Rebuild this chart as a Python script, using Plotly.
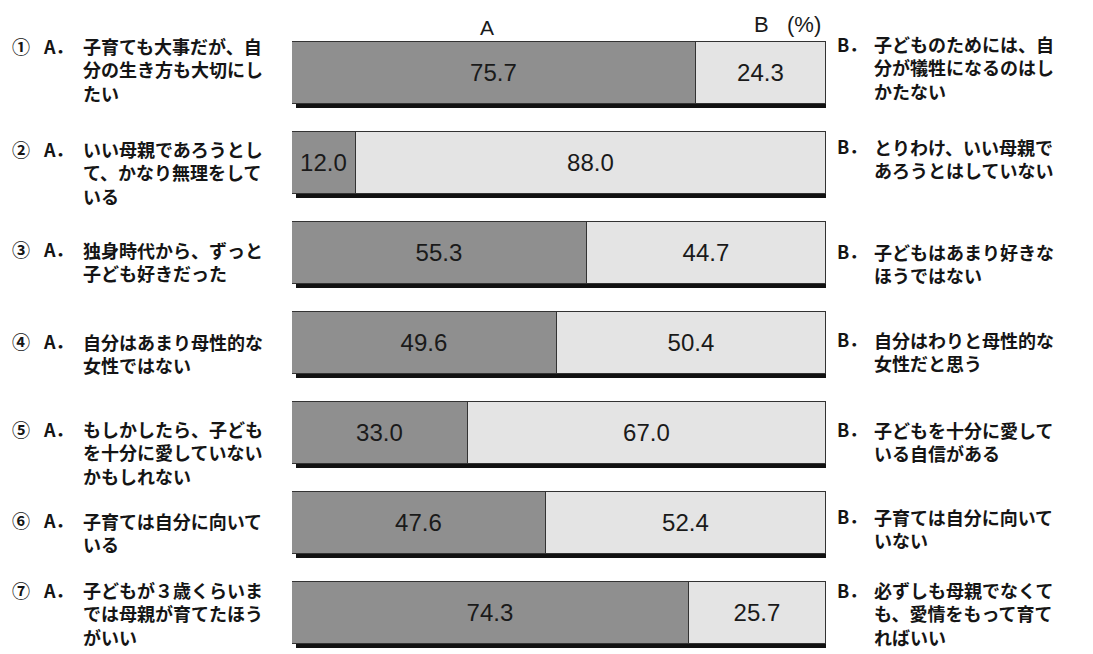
import plotly.graph_objects as go

nums = ["①", "②", "③", "④", "⑤", "⑥", "⑦"]
a_vals = [75.7, 12.0, 55.3, 49.6, 33.0, 47.6, 74.3]
b_vals = [24.3, 88.0, 44.7, 50.4, 67.0, 52.4, 25.7]
a_labels = [
    "子育ても大事だが、自<br>分の生き方も大切にし<br>たい",
    "いい母親であろうとし<br>て、かなり無理をして<br>いる",
    "独身時代から、ずっと<br>子ども好きだった",
    "自分はあまり母性的な<br>女性ではない",
    "もしかしたら、子ども<br>を十分に愛していない<br>かもしれない",
    "子育ては自分に向いて<br>いる",
    "子どもが３歳くらいま<br>では母親が育てたほう<br>がいい",
]
b_labels = [
    "子どものためには、自<br>分が犠牲になるのはし<br>かたない",
    "とりわけ、いい母親で<br>あろうとはしていない",
    "子どもはあまり好きな<br>ほうではない",
    "自分はわりと母性的な<br>女性だと思う",
    "子どもを十分に愛して<br>いる自信がある",
    "子育ては自分に向いて<br>いない",
    "必ずしも母親でなくて<br>も、愛情をもって育て<br>ればいい",
]

# ---- layout / styling ----
W, H = 1093, 654
ML, MR, MT, MB = 292, 267, 28, 0
plot_w = W - ML - MR
plot_h = H - MT - MB
n = len(a_vals)
step_px = 90.0
y_lo = -0.5 + plot_h / step_px
bar_w = 0.69
ys = list(range(n))

# vertical centre of each text block relative to bar centre (px, + = down)
left_block_dy = [-4, 9, 8, 10, 19, 9, 0]
right_block_dy = [-6, -5, 10, 8, 8, 5, 0]
FS = 18
LINE_PX = FS * 1.3

COL_A = "#8f8f8f"
COL_B = "#e4e4e4"
EDGE = "#333333"
JP = "Noto Sans CJK JP"
NUMF = "Liberation Sans, Arial, sans-serif"
TXT = "#151515"

fig = go.Figure()
for vals, col, nm in ((a_vals, COL_A, "A"), (b_vals, COL_B, "B")):
    fig.add_trace(go.Bar(
        y=ys, x=vals, orientation="h", width=bar_w,
        marker=dict(color=col, line=dict(color=EDGE, width=1.2)),
        text=[f"{v:.1f}" for v in vals], textposition="inside",
        insidetextanchor="middle", textangle=0,
        textfont=dict(family=NUMF, size=24, color="#1a1a1a"),
        hoverinfo="skip", showlegend=False, name=nm,
    ))

# drop shadows (bottom + right strips), derived from bar geometry
dx = 4 / plot_w * 100
dy = 4 / step_px
shapes = []
for i in ys:
    total = a_vals[i] + b_vals[i]
    top, bot = i - bar_w / 2, i + bar_w / 2
    shapes.append(dict(type="rect", xref="x", yref="y", layer="above",
                       x0=dx, x1=total + dx, y0=bot, y1=bot + dy,
                       fillcolor="#111111", line=dict(width=0)))
    shapes.append(dict(type="rect", xref="x", yref="y", layer="above",
                       x0=total, x1=total + dx, y0=top + dy, y1=bot + dy,
                       fillcolor="#111111", line=dict(width=0)))

annos = []


def add_block(i, xr, px_num, num, px_pre, pre, px_txt, label, block_dy):
    nl = label.count("<br>") + 1
    first = block_dy - (nl - 1) * LINE_PX / 2
    font = dict(family=JP, size=FS, color=TXT)
    if num:
        annos.append(dict(x=xr, xref="paper", y=i, yref="y", xanchor="center",
                          yanchor="middle", xshift=px_num, yshift=-first,
                          text="<b>" + num + "</b>", showarrow=False,
                          font=dict(family=JP, size=18, color=TXT)))
    annos.append(dict(x=xr, xref="paper", y=i, yref="y", xanchor="left",
                      yanchor="middle", xshift=px_pre, yshift=-first,
                      text="<b>" + pre + "</b>", showarrow=False, font=font))
    annos.append(dict(x=xr, xref="paper", y=i, yref="y", xanchor="left",
                      yanchor="middle", xshift=px_txt, yshift=-block_dy,
                      text="<b>" + label + "</b>", showarrow=False, align="left",
                      font=font))


for i in ys:
    add_block(i, 0, 21 - ML, nums[i], 41 - ML, "A．", 81 - ML, a_labels[i], left_block_dy[i])
    add_block(i, 1, 0, None, 9, "B．", 46, b_labels[i], right_block_dy[i])

annos.append(dict(
    x=a_vals[0] / 2, xref="x", y=1, yref="paper", xanchor="center", yanchor="middle",
    xshift=-7, yshift=1, text="A", showarrow=False,
    font=dict(family=NUMF, size=21, color="#1a1a1a"),
))
annos.append(dict(
    x=100, xref="x", y=1, yref="paper", xanchor="right", yanchor="middle",
    xshift=-3, yshift=4, text="B   (%)", showarrow=False,
    font=dict(family=NUMF, size=22, color="#1a1a1a"),
))

fig.update_layout(
    width=W, height=H, barmode="stack", bargap=0,
    margin=dict(l=ML, r=MR, t=MT, b=MB, pad=0),
    paper_bgcolor="white", plot_bgcolor="white",
    xaxis=dict(range=[0, 100], visible=False, fixedrange=True),
    yaxis=dict(range=[y_lo, -0.5], visible=False, fixedrange=True),
    shapes=shapes, annotations=annos, showlegend=False,
)
fig.write_html("out.html")
